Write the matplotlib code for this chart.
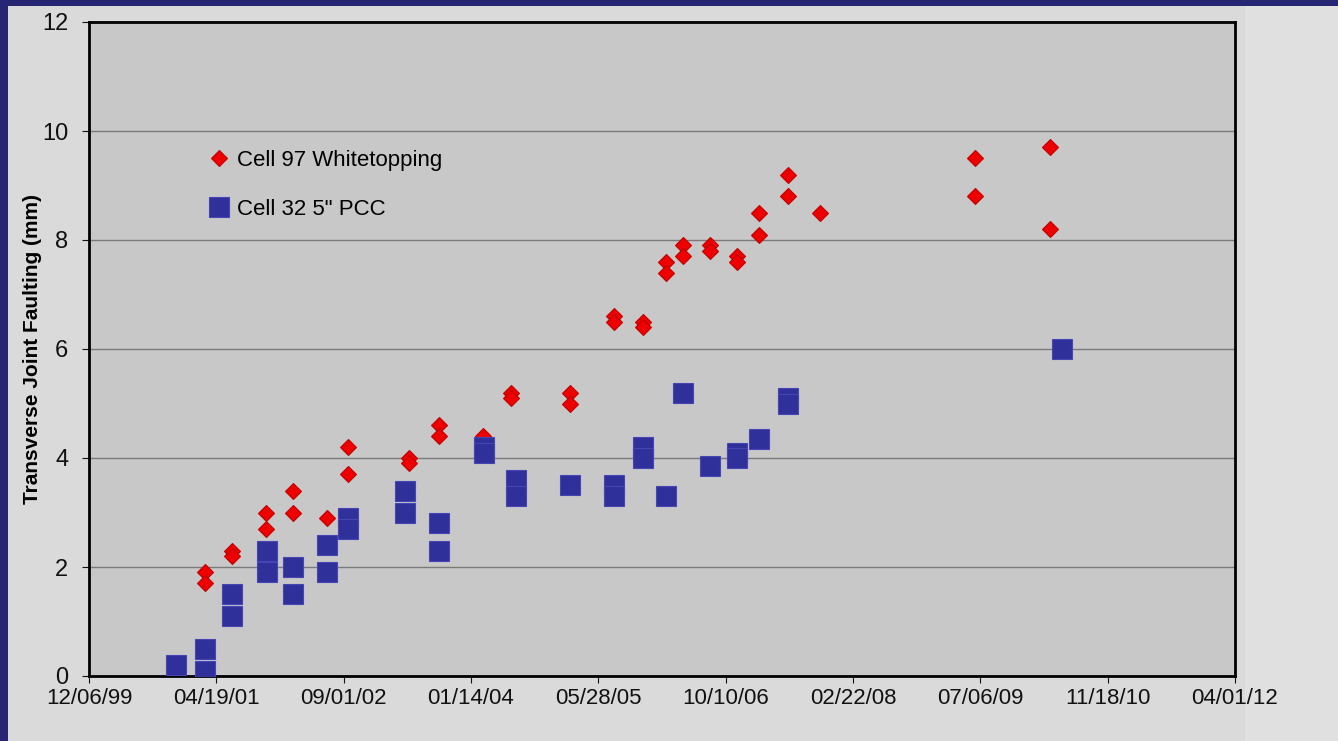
import matplotlib
matplotlib.use("Agg")
import matplotlib.pyplot as plt
import matplotlib.dates as mdates
from matplotlib.patches import Rectangle
import pandas as pd

# Cell 97 whitetopping faulting readings (mm)
wt_dates = ["2001-03-06", "2001-03-06", "2001-06-20", "2001-06-20", "2001-10-31", "2001-10-31",
            "2002-02-14", "2002-02-14", "2002-06-28", "2002-09-18", "2002-09-18",
            "2003-05-15", "2003-05-15", "2003-09-11", "2003-09-11", "2004-03-02",
            "2004-06-20", "2004-06-20", "2005-02-06", "2005-02-06", "2005-07-29", "2005-07-29",
            "2005-11-20", "2005-11-20", "2006-02-18", "2006-02-18", "2006-04-26", "2006-04-26",
            "2006-08-10", "2006-08-10", "2006-11-24", "2006-11-24", "2007-02-19", "2007-02-19",
            "2007-06-13", "2007-06-13", "2007-10-16", "2009-06-16", "2009-06-16",
            "2010-04-07", "2010-04-07"]
wt_fault = [1.9, 1.7, 2.3, 2.2, 3.0, 2.7,
            3.4, 3.0, 2.9, 4.2, 3.7,
            4.0, 3.9, 4.6, 4.4, 4.4,
            5.2, 5.1, 5.2, 5.0, 6.6, 6.5,
            6.5, 6.4, 7.6, 7.4, 7.9, 7.7,
            7.9, 7.8, 7.7, 7.6, 8.5, 8.1,
            9.2, 8.8, 8.5, 9.5, 8.8,
            9.7, 8.2]

# Cell 32 5" PCC faulting readings (mm)
pcc_dates = ["2000-11-12", "2001-03-06", "2001-03-06", "2001-06-20", "2001-06-20",
             "2001-11-05", "2001-11-05", "2002-02-14", "2002-02-14", "2002-06-28", "2002-06-28",
             "2002-09-18", "2002-09-18", "2003-05-01", "2003-05-01", "2003-09-11", "2003-09-11",
             "2004-03-06", "2004-03-06", "2004-07-09", "2004-07-09", "2005-02-06",
             "2005-07-29", "2005-07-29", "2005-11-20", "2005-11-20", "2006-02-18",
             "2006-04-26", "2006-08-10", "2006-11-24", "2006-11-24", "2007-02-19",
             "2007-06-13", "2007-06-13", "2010-05-24"]
pcc_fault = [0.2, 0.5, 0.1, 1.5, 1.1,
             2.3, 1.9, 2.0, 1.5, 2.4, 1.9,
             2.9, 2.7, 3.4, 3.0, 2.8, 2.3,
             4.2, 4.1, 3.6, 3.3, 3.5,
             3.5, 3.3, 4.2, 4.0, 3.3,
             5.2, 3.85, 4.1, 4.0, 4.35,
             5.1, 5.0, 6.0]

x_ticks = pd.date_range("1999-12-06", periods=10, freq="500D")
y_ticks = [0, 2, 4, 6, 8, 10, 12]

plt.rcParams["font.family"] = ["Liberation Sans Narrow", "Liberation Sans", "DejaVu Sans"]

W, H = 1338, 741
fig = plt.figure(figsize=(W / 100, H / 100), dpi=100)
fig.patch.set_facecolor("#262673")
# light panel inside the navy frame, a bit lighter on the right strip
fig.add_artist(Rectangle((8 / W, 0), 1, 1 - 6 / H, transform=fig.transFigure,
                         facecolor="#dadada", edgecolor="none", zorder=0))
fig.add_artist(Rectangle((1245 / W, 0), 1, 1 - 6 / H, transform=fig.transFigure,
                         facecolor="#e0e0e0", edgecolor="none", zorder=0))

ax = fig.add_axes([89 / W, 1 - 676 / H, (1235 - 89) / W, (676 - 22) / H])
ax.set_facecolor("#c8c8c8")

ax.plot(pd.to_datetime(wt_dates), wt_fault, linestyle="none", marker="D", markersize=8.5,
        markerfacecolor="#ee0000", markeredgecolor="#c00000", markeredgewidth=0.8,
        label="Cell 97 Whitetopping", zorder=3)
ax.plot(pd.to_datetime(pcc_dates), pcc_fault, linestyle="none", marker="s", markersize=14,
        markerfacecolor="#30309a", markeredgecolor="#4545b5", markeredgewidth=0.8,
        label='Cell 32 5" PCC', zorder=4)

ax.set_xlim(x_ticks[0], x_ticks[-1])
ax.set_ylim(0, 12)
ax.set_xticks(x_ticks)
ax.xaxis.set_major_formatter(mdates.DateFormatter("%m/%d/%y"))
ax.set_yticks(y_ticks)
ax.tick_params(axis="both", labelsize=16, colors="#111111", length=5, width=0.8, direction="out")
ax.tick_params(axis="x", pad=4)
ax.tick_params(axis="y", pad=10, labelsize=17)

ax.yaxis.grid(True, color="#7a7a7a", linewidth=1)
ax.set_axisbelow(True)
for side in ax.spines.values():
    side.set_color("black")
    side.set_linewidth(2)

ax.set_ylabel("Transverse Joint Faulting (mm)", fontsize=15, fontweight="bold", labelpad=0)

ax.legend(loc="upper left", bbox_to_anchor=(0.094, 0.818), frameon=False, fontsize=16,
          handletextpad=0.2, labelspacing=1.25, borderaxespad=0, handlelength=1.2)

fig.savefig("out.png", dpi=100, facecolor=fig.get_facecolor())
